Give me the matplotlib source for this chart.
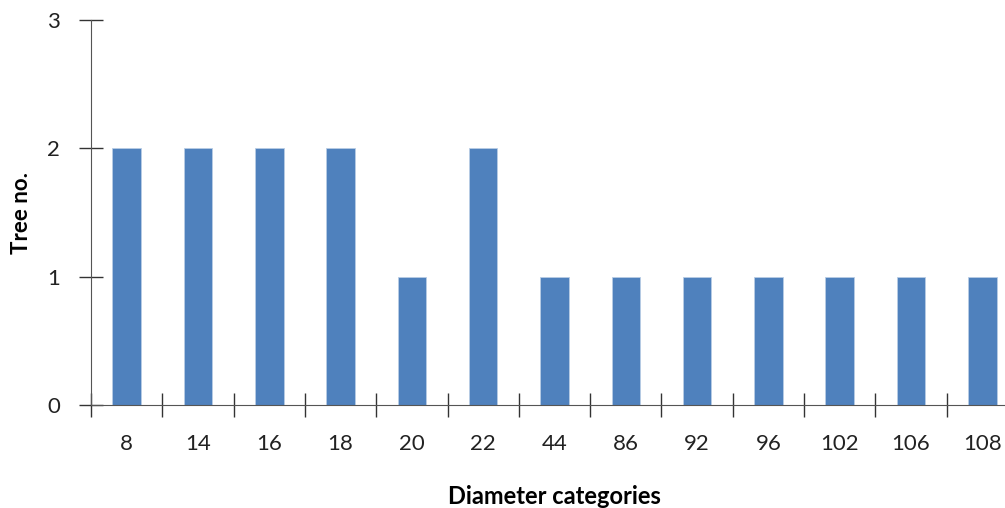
import matplotlib.pyplot as plt

# Datos
categorias = ['8', '14', '16', '18', '20', '22', '44', '86', '92', '96', '102', '106', '108']
numeroArboles = [2, 2, 2, 2, 1, 2, 1, 1, 1, 1, 1, 1, 1]

plt.rcParams['font.family'] = ['Lato', 'DejaVu Sans']

fig = plt.figure(figsize=(10.05, 5.08), dpi=100)
# el eje se sale un poco por la derecha como en la imagen original
ax = fig.add_axes([91 / 1005, (508 - 405) / 508, 927 / 1005, 385 / 508])

posiciones = range(len(categorias))
ax.bar(posiciones, numeroArboles, width=0.4, color='#4F81BD', edgecolor='#B9CDE5', linewidth=0.6)

ax.set_xlim(-0.5, len(categorias) - 0.5)
ax.set_ylim(0, 3)
ax.set_yticks([0, 1, 2, 3])

# ticks del eje x entre categorias, etiquetas centradas
ax.set_xticks([i - 0.5 for i in range(len(categorias) + 1)])
ax.set_xticklabels([])
ax.set_xticks(list(posiciones), minor=True)
ax.set_xticklabels(categorias, minor=True)
ax.tick_params(axis='x', which='minor', length=0, pad=21, labelsize=16, colors='#222222')
ax.tick_params(axis='x', which='major', direction='inout', length=17, width=1, color='#333333')
ax.tick_params(axis='y', direction='inout', length=17, width=1, pad=14, labelsize=16,
               color='#333333', labelcolor='#222222')

for lado in ['top', 'right']:
    ax.spines[lado].set_visible(False)
ax.spines['left'].set_color('#555555')
ax.spines['bottom'].set_color('#555555')

ax.set_xlabel('Diameter categories', fontsize=17, fontweight='bold', labelpad=22)
ax.set_ylabel('Tree no.', fontsize=16, fontweight='bold', labelpad=11)

plt.savefig('out.png', format='png', dpi=100)
